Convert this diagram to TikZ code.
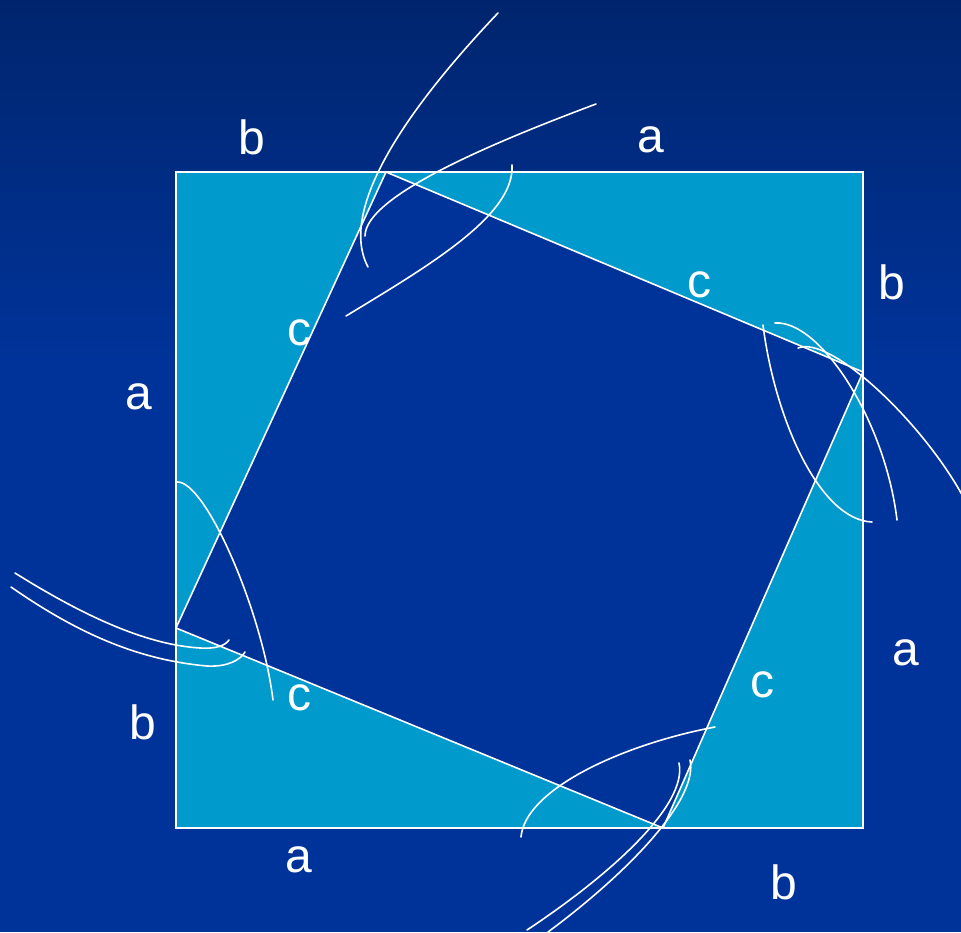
\documentclass[tikz,border=0pt]{standalone}
\usepackage{fontspec}
\setmainfont{Liberation Sans}
\definecolor{bgtop}{RGB}{0,37,110}
\definecolor{bgbot}{RGB}{0,51,153}
\definecolor{light}{RGB}{0,154,204}
\definecolor{inner}{RGB}{0,51,153}
\tikzset{
  edge/.style={draw=white, line width=1.6pt},
  arcline/.style={draw=white, line width=1.6pt, line cap=round},
  lab/.style={text=white, font=\fontsize{48}{48}\selectfont, inner sep=0pt}
}
\begin{document}
\begin{tikzpicture}[x=1pt,y=-1pt]
\useasboundingbox (0,0) rectangle (961,932);
\fill[bgbot] (0,0) rectangle (961,932);
\shade[top color=bgtop, bottom color=bgbot] (0,0) rectangle (961,360);
% corners
\coordinate (O1) at (176,172);
\coordinate (O2) at (863,172);
\coordinate (O3) at (863,828);
\coordinate (O4) at (176,828);
\coordinate (I1) at (386,172);
\coordinate (I2) at (863,372);
\coordinate (I3) at (663,828);
\coordinate (I4) at (176,628);
\fill[light] (O1) -- (O2) -- (O3) -- (O4) -- cycle;
\fill[inner] (I1) -- (I2) -- (I3) -- (I4) -- cycle;
\draw[edge] (O1) -- (O2) -- (O3) -- (O4) -- cycle;
\draw[edge] (I1) -- (I2) -- (I3) -- (I4) -- cycle;
% construction arcs
\begin{scope}
\clip (0,0) rectangle (961,932);
\draw[arcline] (498,13) .. controls (420,95) and (335,205) .. (368,267);
\draw[arcline] (596,104) .. controls (500,140) and (365,195) .. (365,236);
\draw[arcline] (512,165) .. controls (515,215) and (430,265) .. (346,316);
\draw[arcline] (763,325) .. controls (775,420) and (820,520) .. (872,522);
\draw[arcline] (775,323) .. controls (820,320) and (885,420) .. (897,520);
\draw[arcline] (798,348) .. controls (830,335) and (920,420) .. (961,493) -- (975,515);
\draw[arcline] (177,482) .. controls (205,480) and (262,610) .. (273,700);
\draw[arcline] (15,573) .. controls (90,620) and (150,645) .. (200,648) .. controls (215,649) and (225,646) .. (229,640);
\draw[arcline] (11,587) .. controls (80,635) and (140,660) .. (207,666) .. controls (228,667) and (240,660) .. (245,652);
\draw[arcline] (715,727) .. controls (620,745) and (525,790) .. (521,837);
\draw[arcline] (679,763) .. controls (688,805) and (610,875) .. (527,930);
\draw[arcline] (690,760) .. controls (699,800) and (625,875) .. (548,932);
\end{scope}
% labels
\node[lab] (b1) at (252,137) {b};
\node[lab] (a1) at (651,140) {a};
\node[lab] (c1) at (699,285) {c};
\node[lab] (b2) at (892,282) {b};
\node[lab] (c2) at (299,333) {c};
\node[lab] (a2) at (139,397) {a};
\node[lab] (a3) at (906,653) {a};
\node[lab] (c3) at (762,685) {c};
\node[lab] (c4) at (299,698) {c};
\node[lab] (b3) at (143,722) {b};
\node[lab] (a4) at (299,860) {a};
\node[lab] (b4) at (784,882) {b};
\end{tikzpicture}
\end{document}
